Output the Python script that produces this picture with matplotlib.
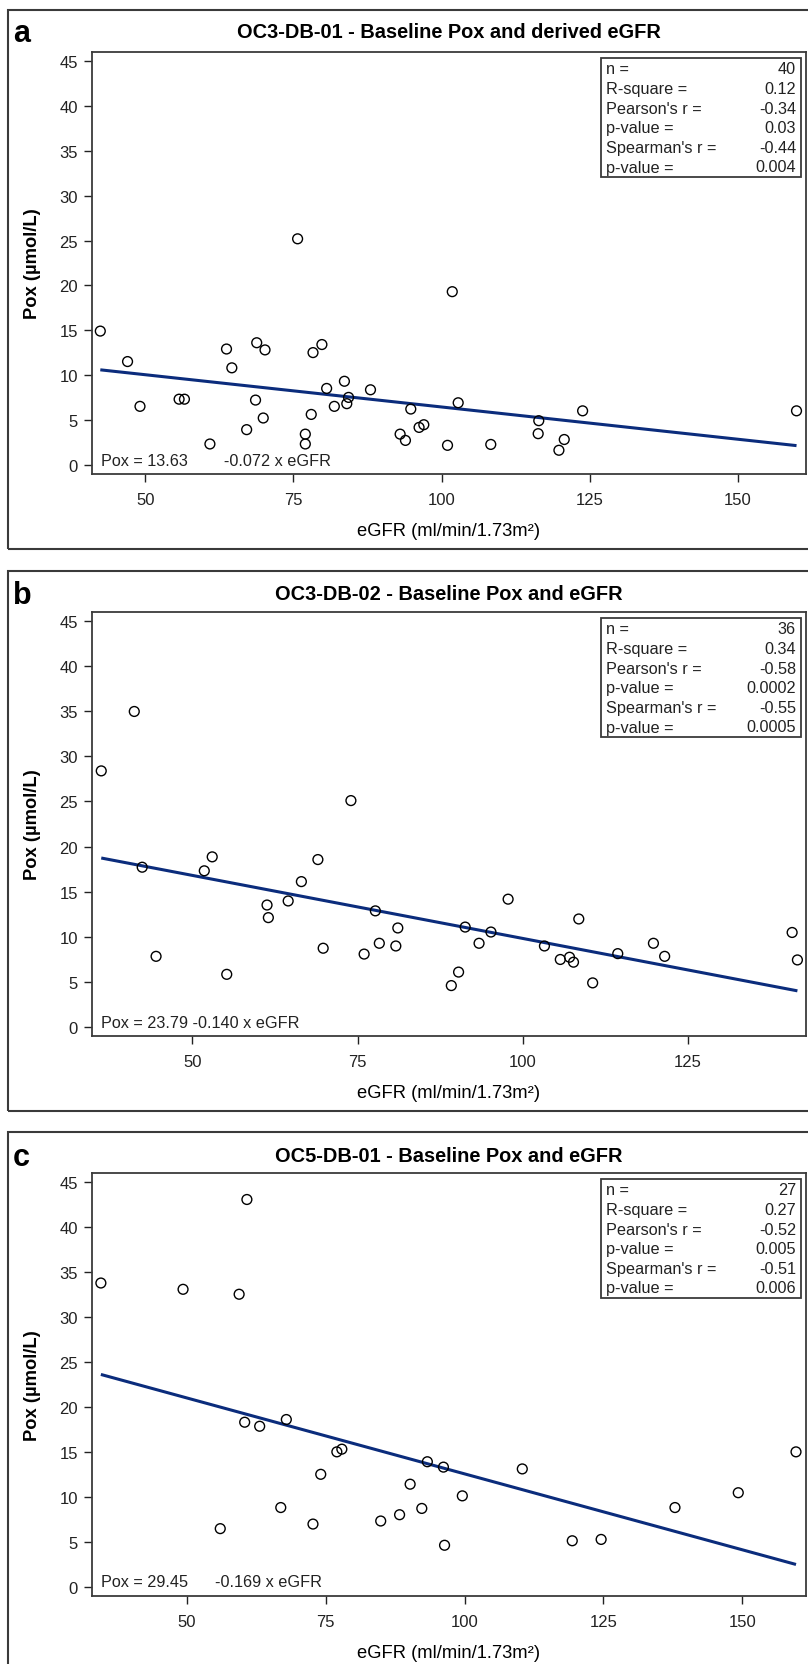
import matplotlib
matplotlib.use("Agg")
import matplotlib.pyplot as plt
from matplotlib.patches import Rectangle

plt.rcParams['font.family'] = ['Liberation Sans', 'DejaVu Sans']

# ---------------- data ----------------
titles = ["OC3-DB-01 - Baseline Pox and derived eGFR",
          "OC3-DB-02 - Baseline Pox and eGFR",
          "OC5-DB-01 - Baseline Pox and eGFR"]
letters = ["a", "b", "c"]

egfr_a = [42.4, 47.0, 49.1, 55.7, 56.6, 60.9, 63.7, 64.6, 67.1, 68.6,
          68.8, 69.9, 70.2, 75.7, 77.0, 77.0, 78.0, 78.3, 79.8, 80.6,
          81.9, 83.6, 84.0, 84.3, 88.0, 93.0, 93.9, 94.8, 96.2, 97.0,
          101.8, 101.0, 102.8, 108.3, 116.4, 116.3, 119.8, 120.7, 123.8, 159.9]
pox_a = [14.9, 11.5, 6.5, 7.3, 7.3, 2.3, 12.9, 10.8, 3.9, 7.2,
         13.6, 5.2, 12.8, 25.2, 3.4, 2.3, 5.6, 12.5, 13.4, 8.5,
         6.5, 9.3, 6.8, 7.5, 8.35, 3.4, 2.7, 6.2, 4.15, 4.45,
         19.3, 2.15, 6.9, 2.25, 4.9, 3.45, 1.6, 2.8, 6.0, 6.0]

egfr_b = [36.2, 41.2, 42.4, 44.5, 51.8, 53.0, 55.2, 61.3, 61.5, 64.5,
          66.5, 69.0, 69.8, 74.0, 76.0, 77.7, 78.3, 80.8, 81.1, 97.8,
          91.3, 93.4, 95.2, 90.3, 89.2, 108.5, 103.3, 105.7, 107.1, 107.7,
          110.6, 114.4, 119.8, 121.5, 140.8, 141.6]
pox_b = [28.4, 35.0, 17.7, 7.8, 17.3, 18.85, 5.8, 13.5, 12.1, 13.95,
         16.1, 18.55, 8.7, 25.1, 8.05, 12.85, 9.25, 8.95, 10.95, 14.15,
         11.05, 9.25, 10.5, 6.05, 4.55, 11.95, 8.95, 7.45, 7.7, 7.15,
         4.85, 8.1, 9.25, 7.8, 10.45, 7.4]

egfr_c = [34.5, 49.3, 59.4, 60.8, 60.4, 63.1, 67.9, 77.0, 77.9, 74.1,
          93.3, 90.2, 66.9, 72.7, 84.9, 88.3, 92.3, 56.0, 96.2, 99.6,
          110.4, 137.9, 149.3, 159.7, 96.4, 119.4, 124.6]
pox_c = [33.8, 33.1, 32.55, 43.1, 18.3, 17.85, 18.6, 15.0, 15.3, 12.5,
         13.9, 11.4, 8.8, 6.96, 7.3, 8.0, 8.7, 6.45, 13.3, 10.1,
         13.1, 8.8, 10.45, 15.0, 4.6, 5.1, 5.25]

intercepts = [13.63, 23.79, 29.45]
slopes = [-0.072, -0.140, -0.169]
equations = ["Pox = 13.63        -0.072 x eGFR",
             "Pox = 23.79 -0.140 x eGFR",
             "Pox = 29.45      -0.169 x eGFR"]

stat_labels = ["n =", "R-square =", "Pearson's r =", "p-value =", "Spearman's r =", "p-value ="]
stats_a = ["40", "0.12", "-0.34", "0.03", "-0.44", "0.004"]
stats_b = ["36", "0.34", "-0.58", "0.0002", "-0.55", "0.0005"]
stats_c = ["27", "0.27", "-0.52", "0.005", "-0.51", "0.006"]

xticks_a = [50, 75, 100, 125, 150]
xticks_b = [50, 75, 100, 125]
xticks_c = [50, 75, 100, 125, 150]
yticks = [0, 5, 10, 15, 20, 25, 30, 35, 40, 45]

xlabel = "eGFR (ml/min/1.73m²)"
ylabel = "Pox (µmol/L)"

# ---------------- layout (pixels) ----------------
W, H = 808, 1665
fig = plt.figure(figsize=(W / 100, H / 100), dpi=100)

panels = [
    dict(x=egfr_a, y=pox_a, st=stats_a, xt=xticks_a, xlim=(41.0, 161.5),
         top=53, bot=475, box=(11, 550), title_y=33),
    dict(x=egfr_b, y=pox_b, st=stats_b, xt=xticks_b, xlim=(34.8, 142.9),
         top=613, bot=1037, box=(572, 1112), title_y=595),
    dict(x=egfr_c, y=pox_c, st=stats_c, xt=xticks_c, xlim=(32.9, 161.5),
         top=1174, bot=1597, box=(1133, 1700), title_y=1157),
]
L, R = 92, 806
navy = '#0B2C7C'
frame_col = '#3a3a3a'

for i, p in enumerate(panels):
    # outer panel frame
    bt, bb = p['box']
    fig.patches.append(Rectangle((8 / W, 1 - bb / H), (830 - 8) / W, (bb - bt) / H,
                                 transform=fig.transFigure, fill=False,
                                 edgecolor=frame_col, linewidth=1.5))
    top, bot = p['top'], p['bot']
    ax = fig.add_axes([L / W, 1 - bot / H, (R - L) / W, (bot - top) / H])
    ax.set_xlim(*p['xlim'])
    ax.set_ylim(-1.05, 46.05)
    ax.scatter(p['x'], p['y'], s=50, facecolors='none', edgecolors='black',
               linewidths=1.0, zorder=3)
    x0, x1 = min(p['x']), max(p['x'])
    ax.plot([x0, x1], [intercepts[i] + slopes[i] * x0, intercepts[i] + slopes[i] * x1],
            color=navy, linewidth=2.2, zorder=2, solid_capstyle='butt')
    ax.set_xticks(p['xt'])
    ax.set_yticks(yticks)
    ax.tick_params(direction='out', length=6, width=1.0, labelsize=12,
                   colors='#222222', pad=4)
    ax.tick_params(axis='x', pad=7)
    for s in ax.spines.values():
        s.set_color(frame_col)
        s.set_linewidth(1.3)
    ax.set_xlabel(xlabel, fontsize=13.2, labelpad=11)
    ax.set_ylabel(ylabel, fontsize=13.2, fontweight='bold', labelpad=13)

    hpx = bot - top
    wpx = R - L

    def fx(px):
        return (px - L) / wpx

    def fy(py):
        return (bot - py) / hpx

    # stats box
    ax.add_patch(Rectangle((fx(601), fy(top + 125)), (801 - 601) / wpx, 119 / hpx,
                           transform=ax.transAxes, fill=False, edgecolor=frame_col,
                           linewidth=1.3, zorder=4))
    for k, (lab, val) in enumerate(zip(stat_labels, p['st'])):
        yy = fy(top + 17 + 19.6 * k)
        ax.text(fx(606), yy, lab, transform=ax.transAxes, fontsize=11.7,
                ha='left', va='center', color='#222222', zorder=5)
        ax.text(fx(796), yy, val, transform=ax.transAxes, fontsize=11.7,
                ha='right', va='center', color='#222222', zorder=5)

    # regression equation
    ax.text(fx(101), fy(bot - 14), equations[i], transform=ax.transAxes,
            fontsize=11.7, ha='left', va='center', color='#222222')

    # title and panel letter
    fig.text(((L + R) / 2) / W, 1 - p['title_y'] / H, titles[i], fontsize=14.4,
             fontweight='bold', ha='center', va='center')
    fig.text(13 / W, 1 - (p['title_y'] + 1) / H, letters[i], fontsize=22,
             fontweight='bold', ha='left', va='center')

fig.savefig("out.png", dpi=100)
